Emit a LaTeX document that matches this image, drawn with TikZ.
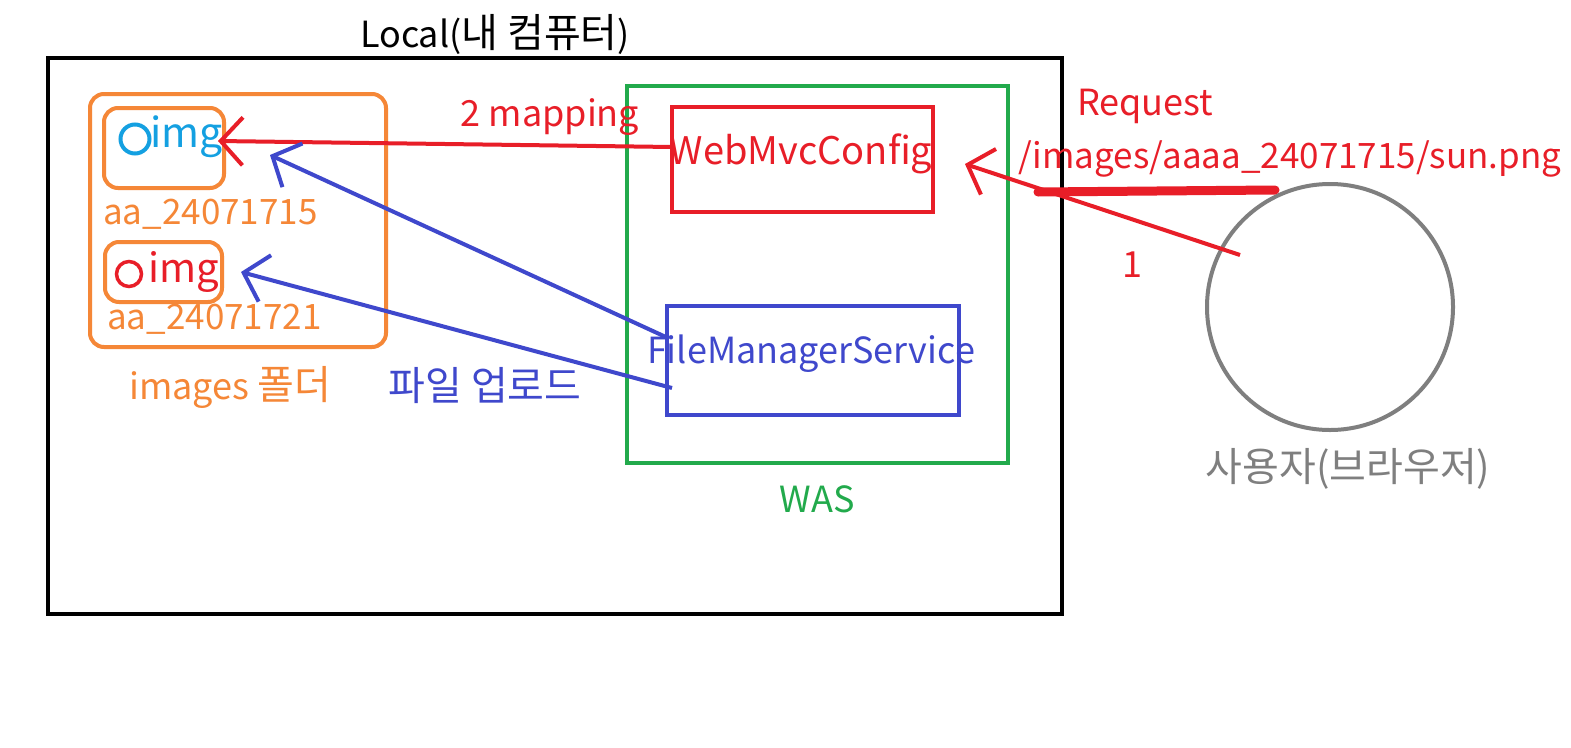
\documentclass[tikz,border=0pt]{standalone}
\usepackage{fontspec}
\setmainfont{Noto Sans CJK KR}
\usetikzlibrary{arrows.meta,calc}
\definecolor{pred}{RGB}{232,30,40}
\definecolor{porange}{RGB}{245,135,55}
\definecolor{pgreen}{RGB}{34,170,76}
\definecolor{pblue}{RGB}{63,72,204}
\definecolor{pcyan}{RGB}{20,160,225}
\definecolor{pgray}{RGB}{127,127,127}
\newcommand{\krtxt}[1]{{\fontsize{40}{44}\selectfont #1}}
\tikzset{
  lbl/.style={inner sep=0pt, font=\fontsize{36}{40}\selectfont},
  boxsq/.style={draw, line width=4pt, inner sep=0pt},
  boxrd/.style={draw=porange, line width=4pt, rounded corners=14pt, inner sep=0pt},
  barb/.style={line width=4pt, -{Straight Barb[length=22pt,width=48pt,line width=4pt]}},
}
\begin{document}
\begin{tikzpicture}[x=1pt,y=-1pt]
\useasboundingbox[fill=white] (0,0) rectangle (1571,747);
% outer local box
\node[boxsq, draw=black, minimum width=1014, minimum height=556] (local) at (555,336) {};
\node[lbl, text=black] (localt) at (495,34) {Local(\krtxt{내 컴퓨터})};
% images folder
\node[boxrd, minimum width=296, minimum height=253] (folder) at (238,220.5) {};
\node[boxrd, minimum width=120, minimum height=80] (b1) at (164,148) {};
\node[boxrd, minimum width=117, minimum height=60] (b2) at (163.5,272) {};
\node[draw=pcyan, circle, line width=4pt, minimum size=29, inner sep=0pt] (c1) at (135,139) {};
\node[lbl, text=pcyan, anchor=west, font=\fontsize{41}{44}\selectfont] (img1) at (150,137) {img};
\node[draw=pred, circle, line width=3.5pt, minimum size=25, inner sep=0pt] (c2) at (129,274) {};
\node[lbl, text=pred, anchor=west, font=\fontsize{40}{44}\selectfont] (img2) at (148,272) {img};
\node[lbl, text=porange, anchor=west, font=\fontsize{35}{40}\selectfont] (aa1) at (103,214) {aa\_24071715};
\node[lbl, text=porange, anchor=west, font=\fontsize{35}{40}\selectfont] (aa2) at (107,319) {aa\_24071721};
\node[lbl, text=porange] (imgf) at (230,387) {images \krtxt{폴더}};
\node[lbl, text=pblue] (upl) at (485,386) {\krtxt{파일 업로드}};
% WAS
\node[boxsq, draw=pgreen, minimum width=381, minimum height=377] (was) at (817.5,274.5) {};
\node[lbl, text=pgreen] (wast) at (817,499) {WAS};
\node[boxsq, draw=pred, minimum width=261, minimum height=105] (web) at (802.5,159.5) {};
\node[lbl, text=pred, font=\fontsize{38}{42}\selectfont] (webt) at (801,154) {WebMvcConfig};
\node[boxsq, draw=pblue, minimum width=292, minimum height=109] (fms) at (813,360.5) {};
\node[lbl, text=pblue] (fmst) at (811,354) {FileManagerService};
% user
\node[draw=pgray, circle, line width=4pt, minimum size=246, inner sep=0pt] (user) at (1330,307) {};
\node[lbl, text=pgray] (usert) at (1348,469) {\krtxt{사용자(브라우저)}};
% request labels
\node[lbl, text=pred, anchor=west] (req) at (1077,106) {Request};
\node[lbl, text=pred, anchor=west, font=\fontsize{35}{40}\selectfont] (path) at (1018,159) {/images/aaaa\_24071715/sun.png};
\node[lbl, text=pred] (one) at (1132,265) {1};
\node[lbl, text=pred] (map) at (550,117) {2 mapping};
% connectors
\coordinate (webL) at (672,147);
\coordinate (tip1) at (218,141);
\draw[barb, pred] (webL) -- (tip1);
\coordinate (f1) at (668,338);
\coordinate (tipb1) at (270,155);
\draw[barb, pblue] (f1) -- (tipb1);
\coordinate (f2) at (672,388);
\coordinate (tipb2) at (241,272);
\draw[barb, pblue] (f2) -- (tipb2);
\coordinate (u1) at (1240,255);
\coordinate (tipr) at (965,164);
\draw[barb, pred] (u1) -- (tipr);
\coordinate (ul1) at (1038,192);
\coordinate (ul2) at (1275,190);
\draw[pred, line width=9pt, line cap=round] (ul1) -- (ul2);
\end{tikzpicture}
\end{document}
